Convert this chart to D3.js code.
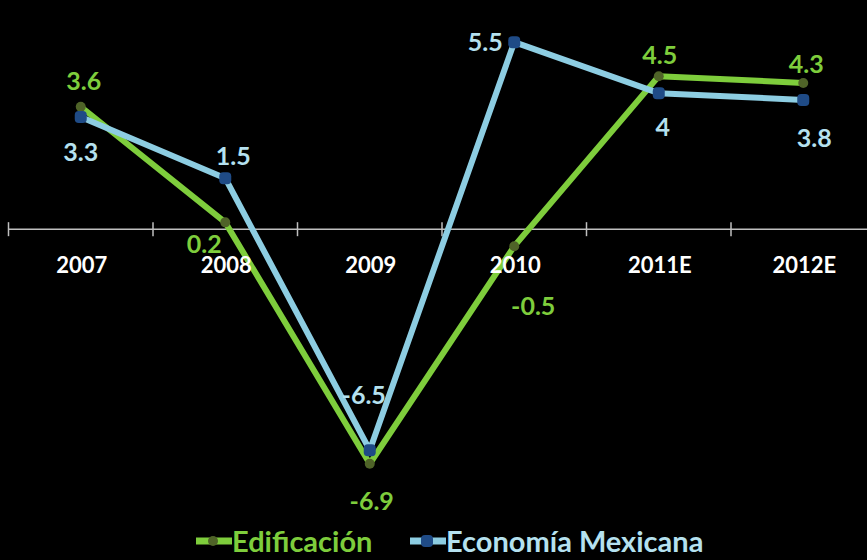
<!DOCTYPE html>
<html><head><meta charset="utf-8">
<script src="https://cdn.jsdelivr.net/npm/d3@7"></script>
<style>body{margin:0;background:#000;} svg{display:block;}</style>
</head><body>
<svg id="c" width="867" height="560"></svg>
<script>
const categories = ["2007","2008","2009","2010","2011E","2012E"];
const edificacion = [3.6, 0.2, -6.9, -0.5, 4.5, 4.3];
const economia = [3.3, 1.5, -6.5, 5.5, 4, 3.8];
const seriesNames = ["Edificación", "Economía Mexicana"];

const W = 867, H = 560;
const svg = d3.select("#c");
svg.append("rect").attr("width", W).attr("height", H).attr("fill", "#000");

const x = d3.scaleBand().domain(categories).range([8.5, 875.5]);
const y = d3.scaleLinear().domain([-9.73, 6.74]).range([H, 0]);
const cx = c => x(c) + x.bandwidth() / 2;
const font = "Lato, 'Open Sans', sans-serif";

// axis at zero
const axis = d3.axisBottom(x).tickSize(0).tickFormat("");
const ag = svg.append("g").attr("transform", `translate(0,${y(0)})`).call(axis);
ag.select(".domain").remove();
svg.append("line").attr("x1", 8.5).attr("x2", W).attr("y1", y(0)).attr("y2", y(0))
  .attr("stroke", "#bfbfbf").attr("stroke-width", 1.5);
const seps = d3.range(categories.length + 1).map(i => x.range()[0] + i * x.step());
svg.append("g").selectAll("line").data(seps).join("line")
  .attr("x1", d => d).attr("x2", d => d)
  .attr("y1", y(0) - 7).attr("y2", y(0) + 7)
  .attr("stroke", "#bfbfbf").attr("stroke-width", 1.5);

const green = "#7ecd3c", greenMk = "#4f6328";
const blue = "#8dcde2", blueMk = "#1f4b86";
const blueTxt = "#b5e1ef";

const line = d3.line().x((d, i) => cx(categories[i])).y(d => y(d));

svg.append("path").datum(edificacion).attr("d", line)
  .attr("fill", "none").attr("stroke", green).attr("stroke-width", 6).attr("stroke-linejoin", "round");
svg.append("g").selectAll("circle").data(edificacion).join("circle")
  .attr("cx", (d, i) => cx(categories[i])).attr("cy", d => y(d)).attr("r", 5)
  .attr("fill", greenMk);

svg.append("path").datum(economia).attr("d", line)
  .attr("fill", "none").attr("stroke", blue).attr("stroke-width", 6).attr("stroke-linejoin", "round");
svg.append("g").selectAll("rect").data(economia).join("rect")
  .attr("x", (d, i) => cx(categories[i]) - 6).attr("y", d => y(d) - 6)
  .attr("width", 12).attr("height", 12).attr("rx", 4)
  .attr("fill", blueMk);

// data labels: offsets of label centre from point, px
const gOff = [[3, -26], [-21, 22], [2, 37], [19, 60], [1, -21], [3, -19]];
const bOff = [[0, 35], [8, -22], [-6, -55], [-29, 0], [4, 34], [11, 38]];
const fs = 25, capHalf = 9;
svg.append("g").selectAll("text").data(edificacion).join("text")
  .attr("x", (d, i) => cx(categories[i]) + gOff[i][0])
  .attr("y", (d, i) => y(d) + gOff[i][1] + capHalf)
  .attr("text-anchor", "middle").attr("font-family", font)
  .attr("font-weight", "bold").attr("font-size", fs).attr("fill", green)
  .text(d => d);
svg.append("g").selectAll("text").data(economia).join("text")
  .attr("x", (d, i) => cx(categories[i]) + bOff[i][0])
  .attr("y", (d, i) => y(d) + bOff[i][1] + capHalf)
  .attr("text-anchor", "middle").attr("font-family", font)
  .attr("font-weight", "bold").attr("font-size", fs).attr("fill", blueTxt)
  .text(d => d);

// category labels (drawn on top, as in the reference)
svg.append("g").selectAll("text").data(categories).join("text")
  .attr("x", d => cx(d) + 1).attr("y", y(0) + 44)
  .attr("text-anchor", "middle")
  .attr("font-family", font)
  .attr("font-weight", "bold").attr("font-size", 22)
  .attr("fill", "#fff").text(d => d);

// legend
const leg = svg.append("g");
const legItems = [
  {name: seriesNames[0], x0: 196, col: green, mk: greenMk, circle: true, txt: green},
  {name: seriesNames[1], x0: 410, col: blue, mk: blueMk, circle: false, txt: blueTxt}
];
legItems.forEach(it => {
  const ly = 541;
  leg.append("line").attr("x1", it.x0).attr("x2", it.x0 + 36).attr("y1", ly).attr("y2", ly)
    .attr("stroke", it.col).attr("stroke-width", 7);
  if (it.circle) leg.append("circle").attr("cx", it.x0 + 17).attr("cy", ly).attr("r", 5).attr("fill", it.mk);
  else leg.append("rect").attr("x", it.x0 + 11).attr("y", ly - 6).attr("width", 12).attr("height", 12).attr("rx", 4).attr("fill", it.mk);
  leg.append("text").attr("x", it.x0 + 36).attr("y", ly + 11)
    .attr("font-family", font).attr("font-weight", "bold").attr("font-size", 29)
    .attr("fill", it.txt).text(it.name);
});
</script>
</body></html>
